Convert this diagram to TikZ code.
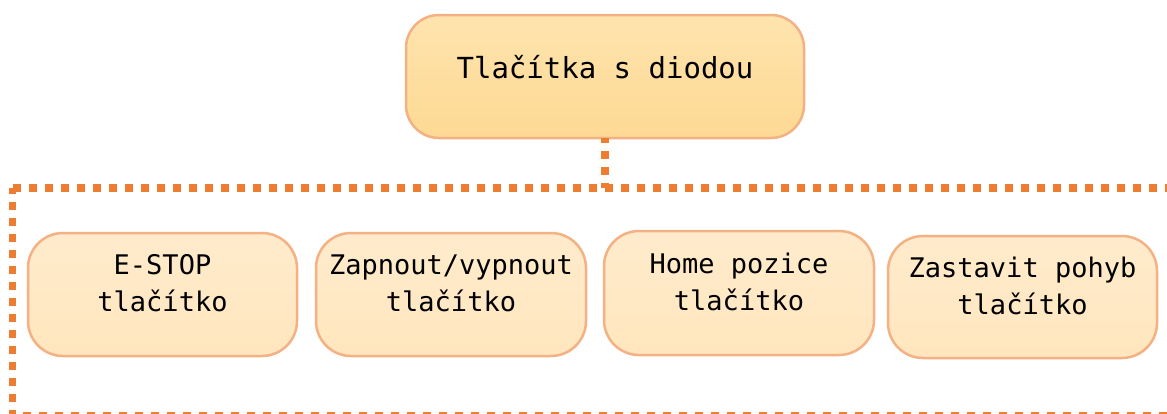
\documentclass[tikz,border=0pt]{standalone}
\usepackage{fontspec}
\newfontfamily\monofnt{DejaVu Sans Mono}
\definecolor{borderc}{HTML}{F4B183}
\definecolor{dotc}{HTML}{ED7D31}
\definecolor{toptop}{HTML}{FFE4AE}
\definecolor{topbot}{HTML}{FDD993}
\definecolor{smtop}{HTML}{FFEBCC}
\definecolor{smbot}{HTML}{FFE6BE}
\tikzset{
  bigbox/.style={draw=borderc, line width=2.5pt, rounded corners=33pt, top color=toptop, bottom color=topbot},
  smallbox/.style={draw=borderc, line width=2.5pt, rounded corners=35pt, top color=smtop, bottom color=smbot},
  dotline/.style={draw=dotc, line width=7.5pt, dash pattern=on 8pt off 8pt},
  bigtxt/.style={font=\monofnt\fontsize{29}{37}\selectfont, inner sep=0pt},
  smtxt/.style={font=\monofnt\fontsize{27}{37}\selectfont, align=center, inner sep=0pt},
}
\begin{document}
\begin{tikzpicture}[x=1pt,y=-1pt]
\useasboundingbox (0,0) rectangle (1167,413);
\clip (0,0) rectangle (1167,413);
% group frame
\draw[dotline] (12.5,188) coordinate (fa) -- (1180,188) -- (1180,415.5) -- (12.5,415.5) -- cycle;
\coordinate (ftop) at (605,188);
% top box
\path[bigbox] (406,15) rectangle (804,138);
\node[inner sep=0pt, minimum width=398pt, minimum height=123pt] (top) at (605,76.5) {};
\node[bigtxt] (toptxt) at (605,67) {Tlačítka s diodou};
\draw[dotline, dash phase=3pt] (top.south) -- (ftop);
% small boxes
\path[smallbox] (28,233) rectangle (297,356);
\node (b1) at (162.5,294.5) {};
\node[smtxt] (t1) at (162.5,283.5) {E-STOP\\tlačítko};
\path[smallbox] (316,233) rectangle (586,356);
\node (b2) at (451,294.5) {};
\node[smtxt] (t2) at (451,283.5) {Zapnout/vypnout\\tlačítko};
\path[smallbox] (604,231) rectangle (874,355);
\node (b3) at (739,293) {};
\node[smtxt] (t3) at (739,281.5) {Home pozice\\tlačítko};
\path[smallbox] (888,236) rectangle (1157,358);
\node (b4) at (1022.5,297) {};
\node[smtxt] (t4) at (1022.5,286) {Zastavit pohyb\\tlačítko};
\end{tikzpicture}
\end{document}
